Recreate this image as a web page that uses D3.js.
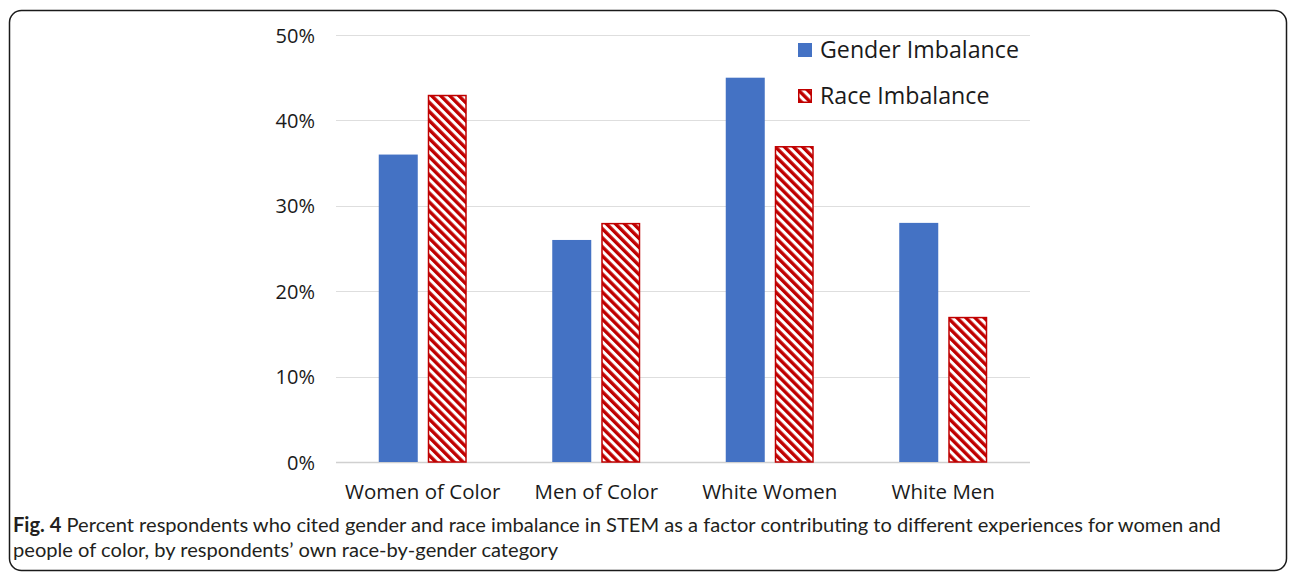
<!DOCTYPE html>
<html>
<head>
<meta charset="utf-8">
<script src="https://cdn.jsdelivr.net/npm/d3@7"></script>
<style>
  html, body { margin: 0; padding: 0; background: #fff; }
  svg { display: block; }
</style>
</head>
<body>
<svg id="chart" width="1296" height="577"></svg>
<script>
// Chart data
const categories = ["Women of Color", "Men of Color", "White Women", "White Men"];
const seriesNames = ["Gender Imbalance", "Race Imbalance"];
const genderValues = [0.36, 0.26, 0.45, 0.28];
const raceValues = [0.43, 0.28, 0.37, 0.17];
const yTicks = [0, 0.1, 0.2, 0.3, 0.4, 0.5];
const captionBold = "Fig. 4";
const captionLine1 = " Percent respondents who cited gender and race imbalance in STEM as a factor contributing to different experiences for women and";
const captionLine2 = "people of color, by respondents\u2019 own race-by-gender category";

const BLUE = "#4472c4";
const RED = "#c00000";
const FONT = "'Open Sans', 'Noto Sans', sans-serif";
const CAPTION_FONT = "Lato, 'Open Sans', sans-serif";

const svg = d3.select("#chart");

// Rounded frame around figure + caption
svg.append("rect")
  .attr("x", 9.5).attr("y", 10.5)
  .attr("width", 1277).attr("height", 560)
  .attr("rx", 12).attr("ry", 12)
  .attr("fill", "none")
  .attr("stroke", "#1a1a1a")
  .attr("stroke-width", 1.5);

// Diagonal hatch for the race series
const defs = svg.append("defs");
const pat = defs.append("pattern")
  .attr("id", "hatch")
  .attr("patternUnits", "userSpaceOnUse")
  .attr("width", 6.4).attr("height", 6.4)
  .attr("patternTransform", "rotate(-45)");
pat.append("rect").attr("width", 6.4).attr("height", 6.4).attr("fill", "#fff");
pat.append("rect").attr("x", 0).attr("width", 3.4).attr("height", 6.4).attr("fill", RED);

// Scales
const y = d3.scaleLinear().domain([0, 0.5]).range([462, 35]);
const x0 = d3.scaleBand().domain(categories).range([336, 1030]).padding(0);
const x1 = d3.scaleBand().domain(seriesNames).range([0, 88]).paddingInner(0.204).paddingOuter(0);
const groupOffset = c => x0(c) + x0.bandwidth() / 2 - 44;

// Gridlines
svg.append("g")
  .selectAll("line")
  .data(yTicks)
  .join("line")
  .attr("x1", 336).attr("x2", 1030)
  .attr("y1", d => Math.round(y(d)) + 0.5)
  .attr("y2", d => Math.round(y(d)) + 0.5)
  .attr("stroke", d => d === 0 ? "#d0d0d0" : "#dedede")
  .attr("stroke-width", d => d === 0 ? 1.5 : 1);

// Y axis labels
const yAxis = d3.axisLeft(y).tickValues(yTicks).tickFormat(d3.format(".0%")).tickSize(0).tickPadding(0);
const yg = svg.append("g").attr("transform", "translate(315,0)").call(yAxis);
yg.select(".domain").remove();
yg.selectAll("text")
  .attr("font-family", FONT)
  .attr("font-size", 20)
  .attr("fill", "#1a1a1a")
  .attr("dy", "0.35em");

// Bars
const rows = categories.map((c, i) => ({ c, vals: [genderValues[i], raceValues[i]] }));
const groups = svg.append("g")
  .selectAll("g")
  .data(rows)
  .join("g")
  .attr("transform", d => `translate(${groupOffset(d.c)},0)`);

groups.append("rect")
  .attr("x", x1(seriesNames[0]))
  .attr("y", d => y(d.vals[0]))
  .attr("width", x1.bandwidth())
  .attr("height", d => y(0) - y(d.vals[0]))
  .attr("fill", BLUE);

groups.append("rect")
  .attr("x", x1(seriesNames[1]) + 0.75)
  .attr("y", d => y(d.vals[1]) + 0.75)
  .attr("width", x1.bandwidth() - 1.5)
  .attr("height", d => y(0) - y(d.vals[1]) - 0.75)
  .attr("fill", "url(#hatch)")
  .attr("stroke", RED)
  .attr("stroke-width", 1.5);

// Category labels
const xAxis = d3.axisBottom(x0).tickSize(0).tickPadding(0);
const xg = svg.append("g").attr("transform", "translate(0,499)").call(xAxis);
xg.select(".domain").remove();
xg.selectAll("text")
  .attr("font-family", FONT)
  .attr("font-size", 20.5)
  .attr("fill", "#1a1a1a")
  .attr("dy", 0);

// Legend
const legend = svg.append("g");
const legendRows = [
  { name: seriesNames[0], y: 50 },
  { name: seriesNames[1], y: 96 }
];
legendRows.forEach((r, i) => {
  if (i === 0) {
    legend.append("rect").attr("x", 798).attr("y", r.y - 7).attr("width", 14).attr("height", 14).attr("fill", BLUE);
  } else {
    legend.append("rect").attr("x", 798.75).attr("y", r.y - 6.25).attr("width", 12.5).attr("height", 12.5)
      .attr("fill", "url(#hatch)").attr("stroke", RED).attr("stroke-width", 1.5);
  }
  legend.append("text")
    .attr("x", 820).attr("y", r.y)
    .attr("dy", "0.36em")
    .attr("font-family", FONT)
    .attr("font-size", 23.2)
    .attr("fill", "#1a1a1a")
    .text(r.name);
});

// Caption
const cap = svg.append("g")
  .attr("font-family", CAPTION_FONT)
  .attr("fill", "#231f20");
const t1 = cap.append("text").attr("x", 13).attr("y", 532).attr("font-size", 18);
t1.append("tspan").attr("font-weight", "bold").text(captionBold);
t1.append("tspan").text(captionLine1);
const t2 = cap.append("text").attr("x", 13).attr("y", 557).attr("font-size", 18).text(captionLine2);

// Fit caption's first line to its measured width
const w1 = t1.node().getComputedTextLength();
const fs = 18 * 1209 / w1;
t1.attr("font-size", fs);
t2.attr("font-size", fs);
</script>
</body>
</html>
